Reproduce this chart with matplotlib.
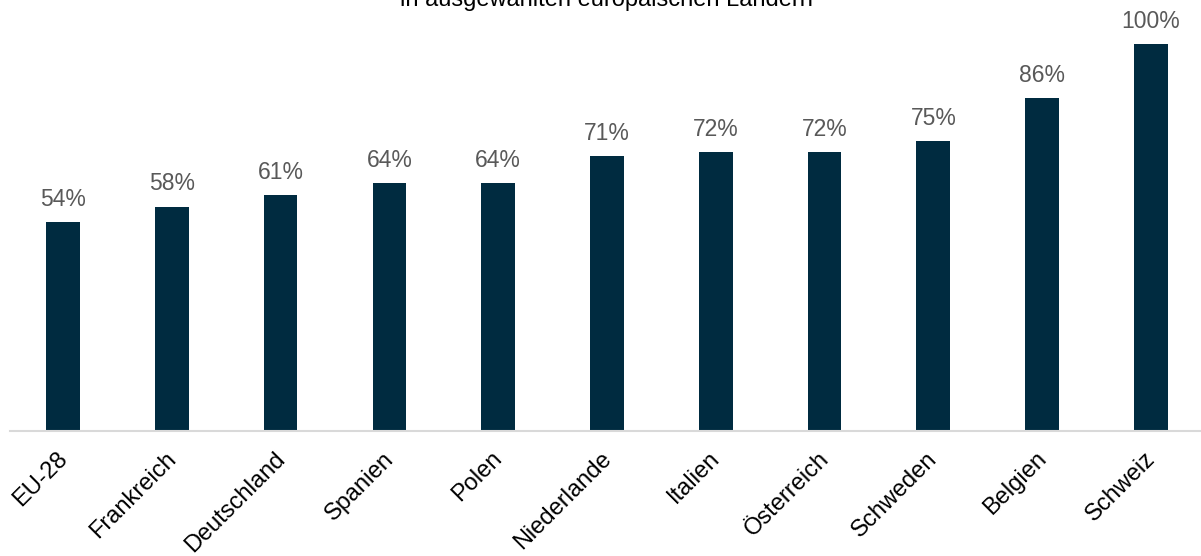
import matplotlib.pyplot as plt
import matplotlib.transforms as mtransforms
import numpy as np

plt.rcParams['font.family'] = ['Liberation Sans', 'DejaVu Sans']

# Länder und Anteile in Prozent
laender = ['EU-28', 'Frankreich', 'Deutschland', 'Spanien', 'Polen', 'Niederlande',
           'Italien', 'Österreich', 'Schweden', 'Belgien', 'Schweiz']
anteile = [54, 58, 61, 64, 64, 71, 72, 72, 75, 86, 100]

fig = plt.figure(figsize=(12.01, 5.56), dpi=100)
ax = fig.add_axes([10 / 1201, 125 / 556, 1 - 10 / 1201, 1 - 125 / 556 - 5.3 / 556])

x = np.arange(len(laender))
bars = ax.bar(x, anteile, width=0.31, color='#002b40', zorder=2)

for b, v in zip(bars, anteile):
    ax.annotate(f'{v}%', (b.get_x() + b.get_width() / 2, v), xytext=(0, 8),
                textcoords='offset points', ha='center', va='bottom',
                fontsize=16.5, color='#595959')

ax.set_xlim(-0.487, 10.46)
ax.set_ylim(0, 110)
ax.set_xticks(x)
ax.set_xticklabels(laender, rotation=45, ha='right', rotation_mode='anchor',
                   fontsize=17, color='black')
ax.tick_params(axis='x', length=0, pad=12)
# Beschriftungen etwas nach links versetzen
versatz = mtransforms.ScaledTranslation(-5 / 72, 0, fig.dpi_scale_trans)
for lbl in ax.get_xticklabels():
    lbl.set_transform(lbl.get_transform() + versatz)
ax.set_yticks([])
for side in ['top', 'right', 'left']:
    ax.spines[side].set_visible(False)
ax.spines['bottom'].set_color('#d9d9d9')
ax.spines['bottom'].set_linewidth(1.5)

# Untertitel am oberen Rand
fig.text(0.505, 1 - 6 / 556, 'in ausgewählten europäischen Ländern', ha='center',
         va='baseline', fontsize=17, color='black')

fig.savefig('out.png', dpi=100)
